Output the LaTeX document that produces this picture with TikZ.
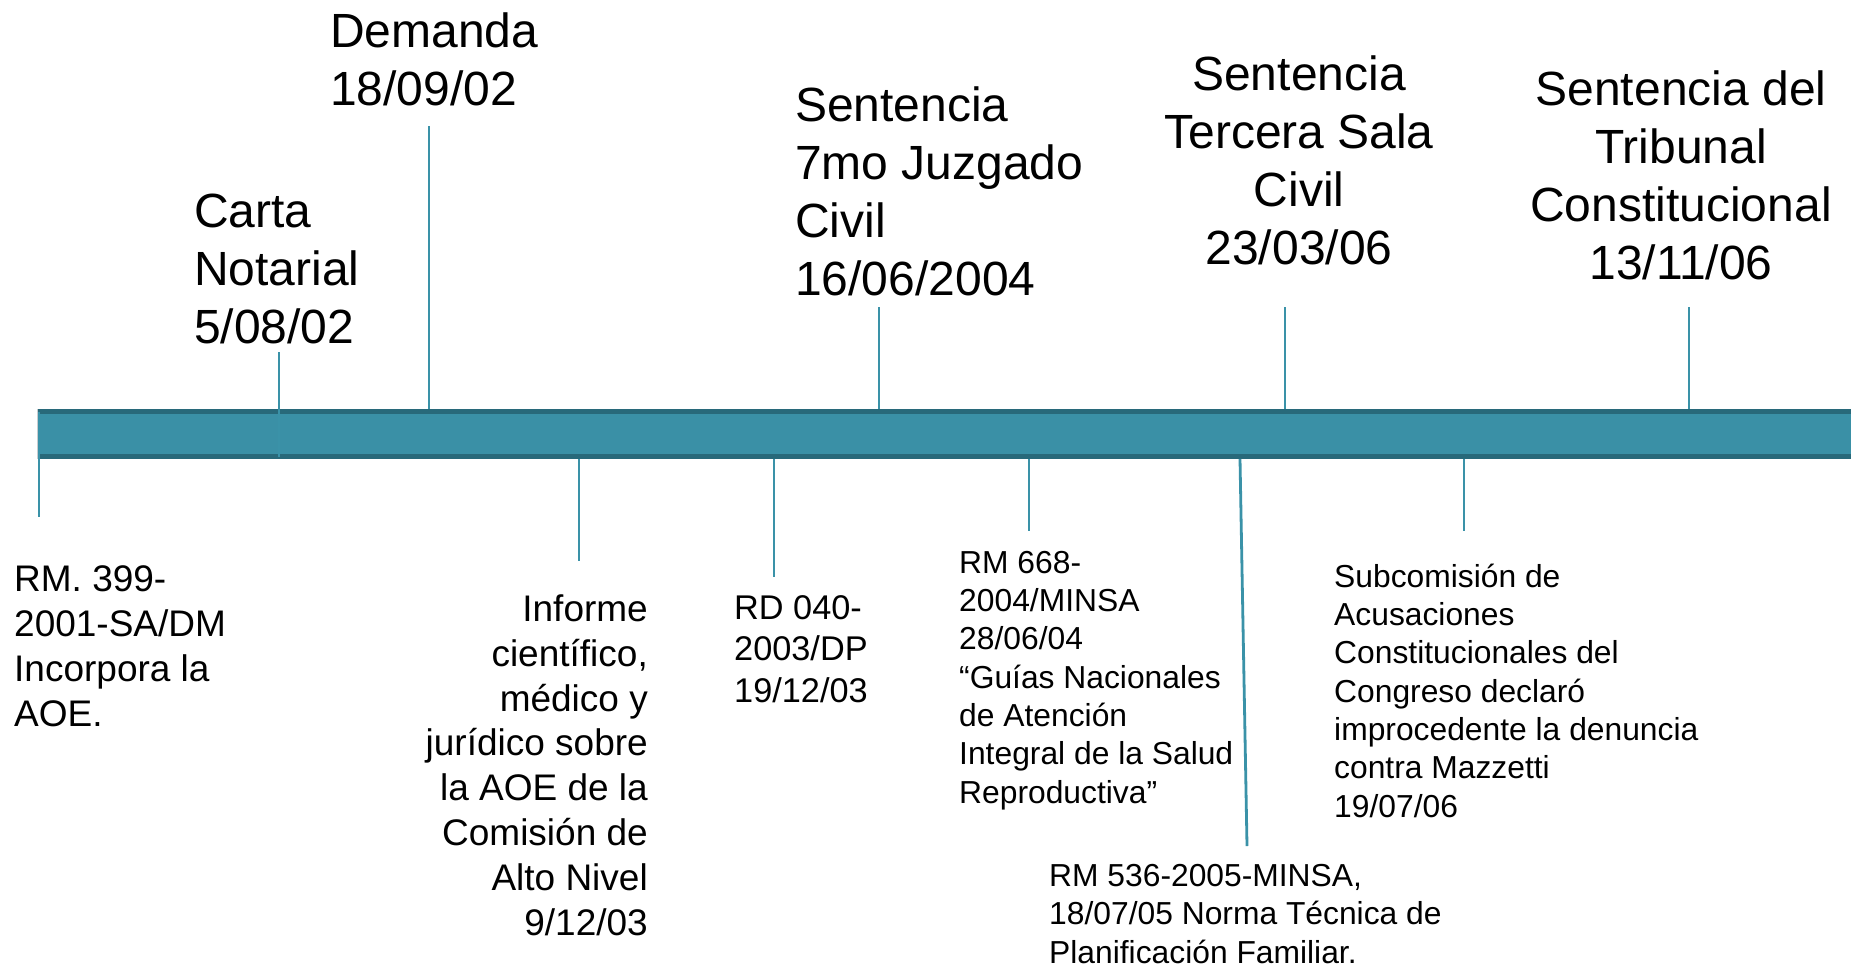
\documentclass[tikz,border=0pt]{standalone}
\usepackage{fontspec}
\setmainfont{Liberation Sans}
\definecolor{barfill}{RGB}{58,144,166}
\definecolor{bardark}{RGB}{40,105,122}
\definecolor{tickc}{RGB}{58,146,168}
\definecolor{edgec}{RGB}{200,205,208}
\tikzset{
  lblbig/.style={font=\fontsize{48}{57.7}\selectfont, inner sep=0pt, text=black},
  lblmid/.style={font=\fontsize{37}{44.8}\selectfont, inner sep=0pt, text=black},
  lblrd/.style={font=\fontsize{34.3}{41.5}\selectfont, inner sep=0pt, text=black},
  lblsmall/.style={font=\fontsize{31.8}{38.3}\selectfont, inner sep=0pt, text=black},
  ticklink/.style={draw=tickc, line width=2.8pt},
}
\begin{document}
\begin{tikzpicture}[x=1pt,y=-1pt]
\useasboundingbox (0,0) rectangle (1851,970);
\fill[white] (0,0) rectangle (1851,970);

% timeline bar
\fill[barfill] (37,409) rectangle (1851,459);
\fill[bardark] (37,409) rectangle (1851,414);
\fill[bardark] (37,454) rectangle (1851,459);
\draw[edgec, line width=0.8pt] (37,409) -- (37,459);

% labels above (anchored at the baseline of the last line)
\node[lblbig, anchor=base west, align=left] (demanda) at (330,105) {Demanda\\18/09/02};
\node[lblbig, anchor=base west, align=left] (carta) at (194,343) {Carta\\Notarial\\5/08/02};
\node[lblbig, anchor=base west, align=left] (sent7) at (795,295) {Sentencia\\7mo Juzgado\\Civil\\16/06/2004};
\node[lblbig, anchor=base, align=center] (sent3) at (1299,264) {Sentencia\\Tercera Sala\\Civil\\23/03/06};
\node[lblbig, anchor=base, align=center] (sentTC) at (1681,279) {Sentencia del\\Tribunal\\Constitucional\\13/11/06};

% labels below
\node[lblmid, anchor=base west, align=left] (rm399) at (14,726) {RM. 399-\\2001-SA/DM\\Incorpora la\\AOE.};
\node[lblmid, anchor=base east, align=right] (informe) at (648,935) {Informe\\científico,\\médico y\\jurídico sobre\\la AOE de la\\Comisión de\\Alto Nivel\\9/12/03};
\node[lblrd, anchor=base west, align=left] (rd040) at (734,702) {RD 040-\\2003/DP\\19/12/03};
\node[lblsmall, anchor=base west, align=left] (rm668) at (959,803) {RM 668-\\2004/MINSA\\28/06/04\\“Guías Nacionales\\de Atención\\Integral de la Salud\\Reproductiva”};
\node[lblsmall, anchor=base west, align=left] (rm536) at (1049,963) {RM 536-2005-MINSA,\\18/07/05 Norma Técnica de\\Planificación Familiar.};
\node[lblsmall, anchor=base west, align=left] (subcom) at (1334,817) {Subcomisión de\\Acusaciones\\Constitucionales del\\Congreso declaró\\improcedente la denuncia\\contra Mazzetti\\19/07/06};

% tick end points
\coordinate (rm399A) at (39,412);   \coordinate (rm399B) at (39,517);
\coordinate (cartaA) at (279,352);  \coordinate (cartaB) at (279,457);
\coordinate (demA) at (429,126);    \coordinate (demB) at (429,409);
\coordinate (infA) at (579,459);    \coordinate (infB) at (579,561);
\coordinate (rdA) at (774,459);     \coordinate (rdB) at (774,577);
\coordinate (s7A) at (879,307);     \coordinate (s7B) at (879,409);
\coordinate (rm668A) at (1029,459); \coordinate (rm668B) at (1029,531);
\coordinate (rm536A) at (1240,459); \coordinate (rm536B) at (1247,846);
\coordinate (s3A) at (1285,307);    \coordinate (s3B) at (1285,409);
\coordinate (subA) at (1464,459);   \coordinate (subB) at (1464,531);
\coordinate (tcA) at (1689,307);    \coordinate (tcB) at (1689,409);

% ticks
\draw[ticklink] (rm399A) -- (rm399B);
\draw[ticklink] (cartaA) -- (cartaB);
\draw[ticklink] (demA) -- (demB);
\draw[ticklink] (infA) -- (infB);
\draw[ticklink] (rdA) -- (rdB);
\draw[ticklink] (s7A) -- (s7B);
\draw[ticklink] (rm668A) -- (rm668B);
\draw[ticklink] (rm536A) -- (rm536B);
\draw[ticklink] (s3A) -- (s3B);
\draw[ticklink] (subA) -- (subB);
\draw[ticklink] (tcA) -- (tcB);
\end{tikzpicture}
\end{document}
